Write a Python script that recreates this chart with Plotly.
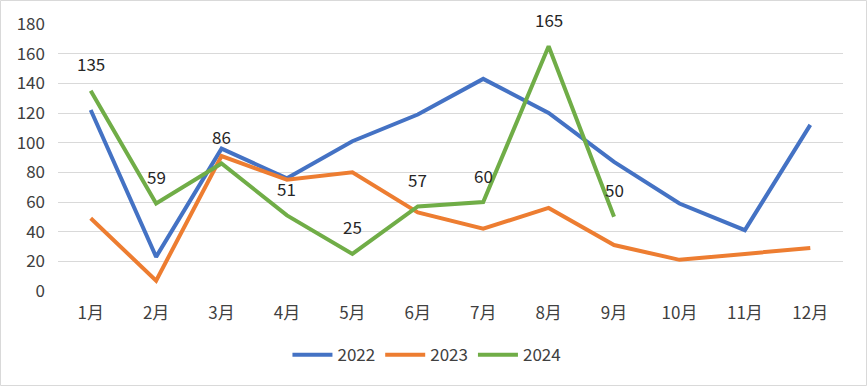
import plotly.graph_objects as go

months = ["1月", "2月", "3月", "4月", "5月", "6月", "7月", "8月", "9月", "10月", "11月", "12月"]
v2022 = [122, 23, 96, 76, 101, 119, 143, 120, 87, 59, 41, 112]
v2023 = [49, 7, 91, 75, 80, 53, 42, 56, 31, 21, 25, 29]
v2024 = [135, 59, 86, 51, 25, 57, 60, 165, 50]
yticks = [0, 20, 40, 60, 80, 100, 120, 140, 160, 180]

FONT = "Noto Sans CJK SC"
FS = 17
fig = go.Figure()
for name, vals, color in [("2022", v2022, "#4472C4"), ("2023", v2023, "#ED7D31"), ("2024", v2024, "#70AD47")]:
    fig.add_trace(go.Scatter(x=months[:len(vals)], y=vals, mode="lines", name=name,
                             line=dict(color=color, width=4)))

for m, v in zip(months, v2024):
    fig.add_annotation(x=m, y=v, text=str(v), showarrow=False, yshift=27,
                       font=dict(family=FONT, size=FS, color="#262626"))

fig.add_shape(type="rect", xref="paper", yref="paper",
              x0=(0.5 - 58) / 785, x1=(866.5 - 58) / 785,
              y0=(291 - 385.5) / 267, y1=(291 - 0.5) / 267,
              line=dict(color="#D9D9D9", width=1), layer="below")

fig.update_layout(
    width=867, height=386,
    margin=dict(l=58, r=24, t=24, b=95),
    paper_bgcolor="white", plot_bgcolor="white",
    font=dict(family=FONT, size=FS, color="#404040"),
    showlegend=True,
    legend=dict(orientation="h", x=0.47, xanchor="center", y=-0.24, yanchor="middle",
                font=dict(family=FONT, size=FS, color="#404040"), itemwidth=40),
    xaxis=dict(type="category", categoryorder="array", categoryarray=months,
               showgrid=False, showline=False, ticks="", tickfont=dict(size=FS),
               range=[-0.5, 11.5], automargin=False, ticklabelstandoff=10),
    yaxis=dict(range=[0, 180], tickvals=yticks, showgrid=True, gridcolor="#D9D9D9",
               gridwidth=1, zeroline=False, showline=False, ticks="", tickfont=dict(size=FS),
               ticklabelstandoff=12, automargin=False),
)
fig.write_html("out.html", config={"displayModeBar": False},
               post_script="document.body.style.margin='0';document.body.style.overflow='hidden';")
